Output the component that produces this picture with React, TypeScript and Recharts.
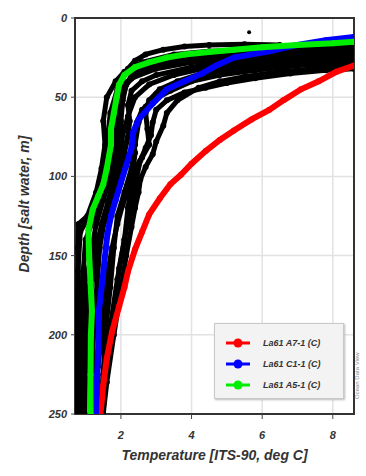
import React from "react";
import { ScatterChart, Scatter, XAxis, YAxis, CartesianGrid, ReferenceArea, Legend, Label } from "recharts";

type P = [number, number];

const xDomain: [number, number] = [0.7, 8.6];
const yDomain: [number, number] = [0, 250];
const xTicks = [2, 4, 6, 8];
const yTicks = [0, 50, 100, 150, 200, 250];

const redLabel = "La61 A7-1 (C)";
const blueLabel = "La61 C1-1 (C)";
const greenLabel = "La61 A5-1 (C)";
const legendOrder = [redLabel, blueLabel, greenLabel];

// [temperature, depth]
const redProfile: P[] = [
  [8.6, 30], [8.1, 34], [7.6, 40], [7.1, 45], [6.6, 52], [6.2, 58], [5.7, 64], [5.2, 71], [4.8, 77],
  [4.4, 84], [4.0, 92], [3.7, 99], [3.4, 105], [3.1, 114], [2.8, 124], [2.6, 135], [2.4, 146],
  [2.2, 160], [2.1, 170], [1.95, 182], [1.75, 198], [1.6, 215], [1.5, 232], [1.42, 250],
];
const blueProfile: P[] = [
  [8.6, 12], [7.8, 14], [7.0, 17], [6.2, 21], [5.2, 25], [4.7, 30], [4.3, 35], [3.8, 40], [3.3, 45],
  [2.9, 54], [2.5, 64], [2.35, 72], [2.3, 82], [2.15, 93], [2.0, 104], [1.85, 115], [1.72, 125],
  [1.62, 136], [1.57, 146], [1.48, 165], [1.38, 184], [1.37, 200], [1.33, 225], [1.29, 250],
];
const greenProfile: P[] = [
  [8.6, 15], [8.0, 16], [7.0, 17], [6.0, 18.5], [5.2, 20], [4.5, 21.5], [3.8, 23], [3.3, 25],
  [2.8, 28], [2.4, 31], [2.1, 36], [1.95, 42], [1.88, 50], [1.8, 60], [1.72, 70], [1.72, 80],
  [1.6, 95], [1.5, 105], [1.35, 113], [1.2, 121], [1.08, 134], [1.1, 150], [1.14, 167],
  [1.18, 185], [1.15, 200], [1.14, 225], [1.14, 250],
];
const black1: P[] = [
  [8.6, 22], [6.0, 24], [4.0, 28], [3.0, 32], [2.3, 38], [1.9, 45], [1.7, 60], [1.6, 80], [1.5, 95],
  [1.35, 110], [1.1, 125], [0.85, 135], [0.78, 160], [0.76, 200], [0.75, 250],
];
const black2: P[] = [
  [8.6, 20], [7.0, 21], [5.5, 23], [4.2, 25], [3.2, 29], [2.5, 35], [2.1, 42], [1.9, 55], [1.8, 75],
  [1.7, 90], [1.55, 105], [1.3, 122], [1.0, 140], [0.9, 170], [0.85, 210], [0.82, 250],
];
const black3: P[] = [
  [8.6, 24], [7.0, 26], [5.5, 28], [4.5, 31], [3.5, 36], [2.8, 42], [2.4, 50], [2.2, 62], [2.0, 78],
  [1.9, 95], [1.75, 110], [1.55, 125], [1.4, 145], [1.3, 175], [1.2, 210], [1.2, 250],
];
const black4: P[] = [
  [8.6, 27], [7.2, 28], [6.0, 30], [5.0, 33], [4.2, 37], [3.5, 42], [3.0, 48], [2.7, 56], [2.5, 66],
  [2.4, 80], [2.3, 95], [2.1, 110], [1.9, 125], [1.8, 145], [1.7, 170], [1.55, 200], [1.45, 250],
];
const black5: P[] = [
  [8.6, 30], [7.5, 32], [6.5, 34], [5.5, 37], [4.8, 40], [4.2, 44], [3.6, 52], [3.3, 60], [3.2, 68],
  [3.0, 78], [2.9, 86], [2.7, 94], [2.55, 102], [2.5, 110], [2.4, 120], [2.3, 132], [2.15, 150],
  [2.0, 172], [1.8, 200], [1.6, 230], [1.5, 250],
];
const black6: P[] = [
  [8.6, 25], [7.5, 27], [6.3, 29], [5.2, 31], [4.3, 35], [3.6, 40], [3.1, 45], [2.8, 52], [2.7, 60],
  [2.75, 70], [2.8, 80], [2.6, 88], [2.4, 95], [2.3, 105], [2.2, 120], [2.1, 140], [1.9, 165],
  [1.7, 195], [1.5, 225], [1.4, 250],
];
const black7: P[] = [
  [8.6, 18], [7.0, 19], [5.5, 20], [4.5, 22], [3.5, 25], [2.8, 30], [2.3, 36], [2.1, 45], [2.0, 60],
  [1.95, 75], [1.9, 90], [1.8, 100], [1.65, 115], [1.45, 130], [1.3, 150], [1.1, 180], [1.0, 215],
  [0.95, 250],
];
const black8: P[] = [
  [8.6, 21], [6.5, 22], [5.0, 24], [4.0, 27], [3.0, 31], [2.4, 36], [2.15, 42], [2.05, 52], [2.0, 65],
  [2.05, 80], [2.1, 90], [1.95, 100], [1.8, 112], [1.6, 125], [1.35, 140], [1.2, 160], [1.05, 190],
  [0.95, 220], [0.9, 250],
];
const black9: P[] = [
  [8.6, 32], [7.8, 33], [6.8, 35], [5.8, 38], [5.0, 41], [4.4, 44], [3.8, 47], [3.3, 52], [3.0, 58],
  [2.9, 66], [2.85, 74], [2.7, 82], [2.55, 90], [2.45, 100], [2.4, 108], [2.3, 118], [2.2, 128],
  [2.1, 140], [1.95, 158], [1.85, 180], [1.7, 205], [1.55, 230], [1.45, 250],
];
const black10: P[] = [
  [8.6, 23], [6.8, 25], [5.2, 27], [4.0, 31], [3.0, 36], [2.6, 40], [2.3, 46], [2.2, 55], [2.25, 65],
  [2.2, 75], [2.1, 85], [2.0, 95], [1.85, 108], [1.7, 118], [1.5, 130], [1.25, 145], [1.05, 160],
  [0.95, 180], [0.88, 210], [0.85, 250],
];
const black11: P[] = [
  [8.6, 28], [7.0, 30], [5.8, 33], [4.8, 36], [4.0, 40], [3.4, 46], [2.9, 52], [2.6, 58], [2.45, 66],
  [2.35, 75], [2.4, 85], [2.35, 95], [2.25, 105], [2.05, 118], [1.9, 130], [1.75, 145], [1.6, 165],
  [1.5, 190], [1.35, 220], [1.3, 250],
];
const black12: P[] = [
  [8.6, 19], [6.0, 20], [4.5, 21], [3.5, 23], [2.6, 28], [2.1, 34], [1.85, 40], [1.6, 50], [1.5, 65],
  [1.55, 80], [1.45, 95], [1.3, 110], [1.05, 125], [0.8, 130], [0.78, 145], [0.8, 170], [0.78, 200],
  [0.8, 250],
];
const black13: P[] = [
  [6.5, 17], [5.5, 16.5], [4.5, 17], [3.8, 18], [3.2, 20], [2.7, 23], [2.4, 27], [2.2, 32], [2.05, 38],
  [1.95, 45], [1.9, 55], [1.85, 70], [1.8, 85], [1.7, 100], [1.5, 115], [1.3, 130], [1.15, 150],
  [1.05, 180], [1.0, 215], [0.98, 250],
];
const strayPoints: P[] = [[5.63, 9]];

const blackProfiles = [
  black1, black2, black3, black4, black5, black6, black7, black8, black9, black10, black11, black12, black13,
];

const toRows = (p: P[]) => p.map(([t, d]) => ({ t, d }));

const font = "'Liberation Sans', Arial, sans-serif";

const dot = (r: number, color: string) => (props: any) =>
  props.cx == null ? <g /> : <circle cx={props.cx} cy={props.cy} r={r} fill={color} />;

const LegendBox = (props: any) => {
  const items = (props.payload || [])
    .filter((e: any) => legendOrder.includes(e.value))
    .sort((a: any, b: any) => legendOrder.indexOf(a.value) - legendOrder.indexOf(b.value));
  return (
    <div
      style={{
        background: "#f3f3f3",
        border: "1px solid #c8c8c8",
        boxShadow: "1px 1px 2px #bbb",
        width: 130,
        height: 76,
        boxSizing: "border-box",
        padding: "8px 0 0 10px",
        fontFamily: font,
        fontStyle: "italic",
        fontWeight: "bold",
        fontSize: 9,
        color: "#333",
      }}
    >
      {items.map((e: any) => (
        <div key={e.value} style={{ display: "flex", alignItems: "center", height: 21 }}>
          <svg width={26} height={10} style={{ marginRight: 12 }}>
            <line x1={1} y1={5} x2={25} y2={5} stroke={e.color} strokeWidth={3} />
            <circle cx={13} cy={5} r={4.5} fill={e.color} />
          </svg>
          <span>{e.value}</span>
        </div>
      ))}
    </div>
  );
};

export default function App() {
  return (
    <div style={{ position: "absolute", left: 0, top: 0, width: 366, height: 476, background: "#fff" }}>
      <ScatterChart width={366} height={476} margin={{ top: 18, right: 12, bottom: 0, left: 0 }}>
        <CartesianGrid stroke="#e2e2e2" strokeWidth={1.5} horizontalValues={yTicks.slice(1, -1)} verticalValues={xTicks} />
        <XAxis
          type="number"
          dataKey="t"
          domain={xDomain}
          ticks={xTicks}
          allowDataOverflow
          height={62}
          tickSize={5}
          tickMargin={12}
          axisLine={false}
          tickLine={{ stroke: "#444" }}
          tick={{ fontFamily: font, fontStyle: "italic", fontWeight: "bold", fontSize: 11, fill: "#333" }}
        >
          <Label
            value="Temperature [ITS-90, deg C]"
            position="insideBottom"
            offset={16}
            style={{ fontFamily: font, fontStyle: "italic", fontWeight: "bold", fontSize: 14, fill: "#333" }}
          />
        </XAxis>
        <YAxis
          type="number"
          dataKey="d"
          domain={yDomain}
          ticks={yTicks}
          reversed
          allowDataOverflow
          width={75}
          tickSize={4}
          tickMargin={4}
          axisLine={false}
          tickLine={{ stroke: "#444" }}
          tick={{ fontFamily: font, fontStyle: "italic", fontWeight: "bold", fontSize: 11, fill: "#333" }}
        >
          <Label
            content={(p: any) => {
              const vb = p.viewBox || {};
              const cx = (vb.x || 0) + 29;
              const cy = (vb.y || 0) + (vb.height || 0) / 2 - 12;
              return (
                <text
                  x={cx}
                  y={cy}
                  transform={`rotate(-90 ${cx} ${cy})`}
                  textAnchor="middle"
                  style={{ fontFamily: font, fontStyle: "italic", fontWeight: "bold", fontSize: 14, fill: "#333" }}
                >
                  Depth [salt water, m]
                </text>
              );
            }}
          />
        </YAxis>
        {blackProfiles.map((p, i) => (
          <Scatter
            key={"b" + i}
            data={toRows(p)}
            fill="#000"
            line={{ stroke: "#000", strokeWidth: 5 }}
            shape={dot(3, "#000")}
            legendType="none"
            isAnimationActive={false}
          />
        ))}
        <Scatter data={toRows(strayPoints)} fill="#000" shape={dot(2, "#000")} legendType="none" isAnimationActive={false} />
        <Scatter name={redLabel} data={toRows(redProfile)} fill="#ff0000" line={{ stroke: "#ff0000", strokeWidth: 6 }} shape={dot(3, "#ff0000")} legendType="circle" isAnimationActive={false} />
        <Scatter name={blueLabel} data={toRows(blueProfile)} fill="#0000ff" line={{ stroke: "#0000ff", strokeWidth: 6 }} shape={dot(3, "#0000ff")} legendType="circle" isAnimationActive={false} />
        <Scatter name={greenLabel} data={toRows(greenProfile)} fill="#00ee00" line={{ stroke: "#00ee00", strokeWidth: 6 }} shape={dot(3, "#00ee00")} legendType="circle" isAnimationActive={false} />
        <ReferenceArea
          x1={xDomain[0]}
          x2={xDomain[1]}
          y1={yDomain[0]}
          y2={yDomain[1]}
          fill="none"
          fillOpacity={0}
          stroke="#333"
          strokeWidth={2}
          ifOverflow="visible"
        />
        <Legend
          layout="vertical"
          align="center"
          verticalAlign="middle"
          content={LegendBox}
          wrapperStyle={{ left: 214, top: 323, width: 130, height: 76 }}
        />
      </ScatterChart>
      <div
        style={{
          position: "absolute",
          left: 354,
          top: 330,
          width: 12,
          height: 92,
          writingMode: "vertical-rl",
          transform: "rotate(180deg)",
          fontFamily: font,
          fontSize: 6,
          color: "#888",
          textAlign: "center",
        }}
      >
        Ocean Data View
      </div>
    </div>
  );
}
